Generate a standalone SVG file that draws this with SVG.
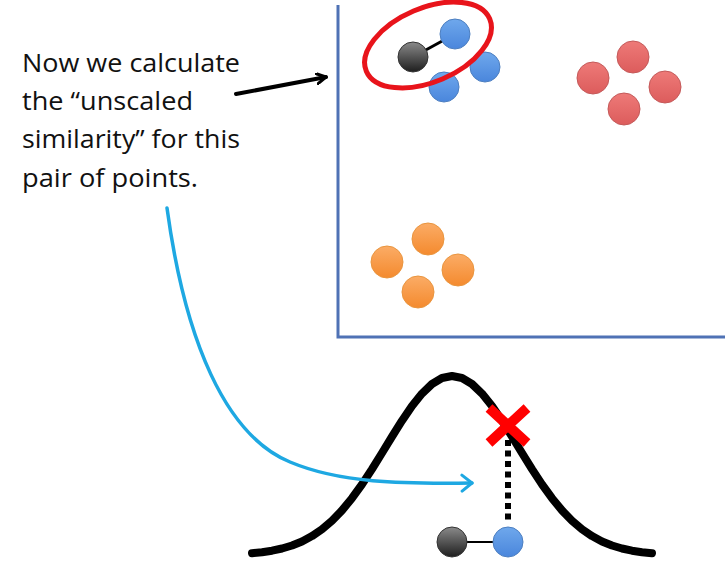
<svg xmlns="http://www.w3.org/2000/svg" width="725" height="571" viewBox="0 0 725 571">
<style>
.lbl{font-family:"Open Sans","Liberation Sans",sans-serif;font-size:25px;fill:#111}
.blue{fill:url(#gBlue);stroke:#4d7fc0;stroke-width:1}
.red{fill:url(#gRed);stroke:#c45a5a;stroke-width:1}
.orange{fill:url(#gOrange);stroke:#e9953f;stroke-width:1}
.black{fill:url(#gBlack);stroke:#333;stroke-width:1}
</style>
<defs>
<linearGradient id="gBlue" x1="0" y1="0" x2="0" y2="1"><stop offset="0" stop-color="#6fa8ec"/><stop offset="1" stop-color="#4a86dc"/></linearGradient>
<linearGradient id="gRed" x1="0" y1="0" x2="0" y2="1"><stop offset="0" stop-color="#ee7a78"/><stop offset="1" stop-color="#dc5c5c"/></linearGradient>
<linearGradient id="gOrange" x1="0" y1="0" x2="0" y2="1"><stop offset="0" stop-color="#fbac66"/><stop offset="1" stop-color="#f48a2e"/></linearGradient>
<linearGradient id="gBlack" x1="0" y1="0" x2="0" y2="1"><stop offset="0" stop-color="#8a8a8a"/><stop offset="1" stop-color="#1e1e1e"/></linearGradient>
<marker id="arrBlack" viewBox="0 0 12 12" refX="10" refY="6" markerWidth="12" markerHeight="12" markerUnits="userSpaceOnUse" orient="auto"><path d="M1,1 L10,6 L1,11" fill="none" stroke="#000" stroke-width="3" stroke-linecap="round" stroke-linejoin="round"/></marker>
<marker id="arrBlue" viewBox="0 0 14 20" refX="12" refY="10" markerWidth="14" markerHeight="20" markerUnits="userSpaceOnUse" orient="auto"><path d="M2,2 L12,10 L2,18" fill="none" stroke="#1ea8e2" stroke-width="3" stroke-linecap="round" stroke-linejoin="round"/></marker>
</defs>
<rect width="725" height="571" fill="#fff"/>
<g id="axes" fill="none" stroke="#4f72b5" stroke-width="3">
<path d="M338,5 L338,337 L725,337"/>
</g>
<g id="label">
<text class="lbl" x="22" y="72" textLength="218" lengthAdjust="spacingAndGlyphs">Now we calculate</text>
<text class="lbl" x="22" y="110" textLength="171" lengthAdjust="spacingAndGlyphs">the “unscaled</text>
<text class="lbl" x="22" y="148" textLength="218" lengthAdjust="spacingAndGlyphs">similarity” for this</text>
<text class="lbl" x="22" y="187" textLength="176" lengthAdjust="spacingAndGlyphs">pair of points.</text>
</g>
<g id="bell">
<path fill="none" stroke="#000" stroke-width="8" stroke-linecap="round" stroke-linejoin="round" d="M252,553.2 L262,552.2 L272,550.7 L282,548.5 L292,545.5 L302,541.5 L312,536.1 L322,529.3 L332,520.7 L342,510.4 L352,498.2 L362,484.4 L372,469.1 L382,453 L392,436.6 L402,420.7 L412,406 L422,393.6 L432,384 L442,378 L452,376 L462,378 L472,384 L482,393.6 L492,406 L502,420.7 L512,436.6 L522,453 L532,469.1 L542,484.4 L552,498.2 L562,510.4 L572,520.7 L582,529.3 L592,536.1 L602,541.5 L612,545.5 L622,548.5 L632,550.7 L642,552.2 L652,553.2"/>
</g>
<g id="connectors" fill="none">
<path d="M236,94 L326,77" stroke="#000" stroke-width="4" stroke-linecap="round" marker-end="url(#arrBlack)"/>
<path d="M167,208 C185,340 225,435 290,462 C340,483 400,484 472,483" stroke="#1ea8e2" stroke-width="3.5" stroke-linecap="round" marker-end="url(#arrBlue)"/>
<path d="M508,440 L508,522" stroke="#000" stroke-width="6" stroke-dasharray="6 4.5"/>
</g>
<g id="cross" stroke="#ff0000" stroke-width="10">
<path d="M489,408 L527,443 M527,408 L489,443"/>
</g>
<g id="pair-top">
<line x1="413" y1="57" x2="455" y2="34" stroke="#000" stroke-width="3"/>
<circle class="blue" cx="455" cy="34" r="15"/>
<circle class="black" cx="413" cy="57" r="15"/>
<circle class="blue" cx="485" cy="67" r="15"/>
<circle class="blue" cx="444" cy="87" r="15"/>
</g>
<g id="red-ring">
<ellipse cx="428" cy="45" rx="67" ry="37" transform="rotate(-23 428 45)" fill="none" stroke="#e8141b" stroke-width="5"/>
</g>
<g id="red-cluster">
<circle class="red" cx="633" cy="57" r="16"/>
<circle class="red" cx="593" cy="78" r="16"/>
<circle class="red" cx="665" cy="87" r="16"/>
<circle class="red" cx="624" cy="109" r="16"/>
</g>
<g id="orange-cluster">
<circle class="orange" cx="428" cy="239" r="16"/>
<circle class="orange" cx="387" cy="262" r="16"/>
<circle class="orange" cx="458" cy="270" r="16"/>
<circle class="orange" cx="418" cy="292" r="16"/>
</g>
<g id="pair-bottom">
<line x1="452" y1="542" x2="508" y2="542" stroke="#000" stroke-width="2"/>
<circle class="black" cx="452" cy="542" r="15"/>
<circle class="blue" cx="508" cy="542" r="15"/>
</g>
</svg>
